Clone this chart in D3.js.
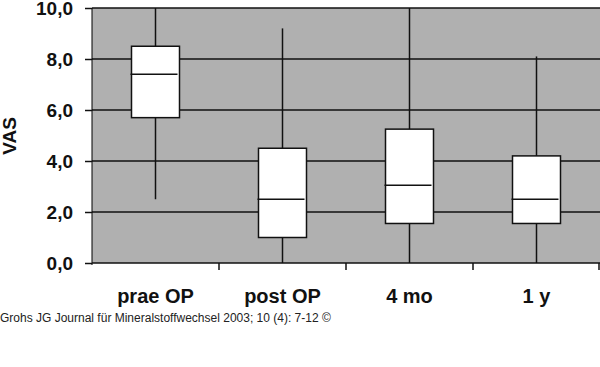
<!DOCTYPE html>
<html>
<head>
<meta charset="utf-8">
<script src="https://cdn.jsdelivr.net/npm/d3@7"></script>
<style>
  body { margin: 0; background: #fff; }
  text { font-family: Arial, "Liberation Sans", sans-serif; }
</style>
</head>
<body>
<div id="chart"></div>
<script>
// box plot data: VAS scores over time
var categories = ["prae OP", "post OP", "4 mo", "1 y"];
var whiskerMin = [2.5, 0.0, 0.0, 0.0];
var boxLow     = [5.7, 1.0, 1.55, 1.55];
var medians    = [7.4, 2.5, 3.05, 2.5];
var boxHigh    = [8.5, 4.5, 5.25, 4.2];
var whiskerMax = [10.0, 9.2, 10.0, 8.1];
var yTicks = [0, 2, 4, 6, 8, 10];

var boxes = categories.map(function(c, i) {
	return { name: c, min: whiskerMin[i], q1: boxLow[i], med: medians[i], q3: boxHigh[i], max: whiskerMax[i] };
});

var w = 600, h = 367;
// note: "top" is taken by window.top, so use plot* names
var plotLeft = 92, plotRight = 600, plotTop = 8, plotBottom = 263;

var svg = d3.select("#chart")
	.append("svg")
	.attr("width", w)
	.attr("height", h);

var x = d3.scaleBand().domain(categories).range([plotLeft, plotRight]);
var y = d3.scaleLinear().domain([0, 10]).range([plotBottom, plotTop]);

// gray plot area
svg.append("rect")
	.attr("x", plotLeft).attr("y", plotTop)
	.attr("width", plotRight - plotLeft).attr("height", plotBottom - plotTop)
	.style("fill", "#b0b0b0");

// gridlines
svg.selectAll("line.grid")
	.data(yTicks.filter(function(d) { return d > 0; }))
	.enter().append("line")
	.attr("x1", plotLeft).attr("x2", plotRight)
	.attr("y1", function(d) { return y(d); })
	.attr("y2", function(d) { return y(d); })
	.style("stroke", "#111").style("stroke-width", 1.5);

// whiskers
svg.selectAll("line.whisker")
	.data(boxes)
	.enter().append("line")
	.attr("x1", function(d) { return x(d.name) + x.bandwidth() / 2; })
	.attr("x2", function(d) { return x(d.name) + x.bandwidth() / 2; })
	.attr("y1", function(d) { return y(d.max); })
	.attr("y2", function(d) { return y(d.min); })
	.style("stroke", "#111").style("stroke-width", 1.5);

var boxW = 48;
svg.selectAll("rect.box")
	.data(boxes)
	.enter().append("rect")
	.attr("x", function(d) { return x(d.name) + x.bandwidth() / 2 - boxW / 2; })
	.attr("y", function(d) { return y(d.q3); })
	.attr("width", boxW)
	.attr("height", function(d) { return y(d.q1) - y(d.q3); })
	.style("fill", "#fff").style("stroke", "#111").style("stroke-width", 1.5);

svg.selectAll("line.median")
	.data(boxes)
	.enter().append("line")
	.attr("x1", function(d) { return x(d.name) + x.bandwidth() / 2 - boxW / 2 - 1; })
	.attr("x2", function(d) { return x(d.name) + x.bandwidth() / 2 + boxW / 2 - 2; })
	.attr("y1", function(d) { return y(d.med); })
	.attr("y2", function(d) { return y(d.med); })
	.style("stroke", "#111").style("stroke-width", 1.5);

// y axis
var yAxis = d3.axisLeft(y)
	.tickValues(yTicks)
	.tickSize(7)
	.tickPadding(12)
	.tickFormat(function(d) { return d3.format(".1f")(d).replace(".", ","); });
var gy = svg.append("g")
	.attr("transform", "translate(" + plotLeft + ",0)")
	.call(yAxis);
gy.select(".domain").attr("d", "M0," + plotTop + "V" + (plotBottom + 2));
gy.selectAll("line").style("stroke", "#111").style("stroke-width", 1.5);
gy.selectAll("text")
	.style("font-size", "19px").style("font-weight", "bold").style("fill", "#111")
	.attr("dy", "0.35em");

// x axis, ticks at category boundaries
var boundaries = categories.map(function(c) { return x(c) + x.bandwidth(); });
svg.append("line")
	.attr("x1", plotLeft).attr("x2", plotRight)
	.attr("y1", plotBottom).attr("y2", plotBottom)
	.style("stroke", "#111").style("stroke-width", 1.5);
svg.selectAll("line.xtick")
	.data(boundaries)
	.enter().append("line")
	.attr("x1", function(d) { return Math.min(d, plotRight - 1); })
	.attr("x2", function(d) { return Math.min(d, plotRight - 1); })
	.attr("y1", plotBottom).attr("y2", plotBottom + 7)
	.style("stroke", "#111").style("stroke-width", 1.5);

svg.selectAll("text.xlabel")
	.data(categories)
	.enter().append("text")
	.attr("x", function(d) { return x(d) + x.bandwidth() / 2; })
	.attr("y", 303)
	.attr("text-anchor", "middle")
	.style("font-size", "20px").style("font-weight", "bold").style("fill", "#111")
	.text(function(d) { return d; });

// axis title
svg.append("text")
	.attr("transform", "translate(16,136) rotate(-90)")
	.attr("text-anchor", "middle")
	.style("font-size", "19px").style("font-weight", "bold").style("fill", "#111")
	.text("VAS");

// source line
svg.append("text")
	.attr("x", 0).attr("y", 322)
	.style("font-size", "12px").style("fill", "#222")
	.text("Grohs JG Journal für Mineralstoffwechsel 2003; 10 (4): 7-12 ©");
</script>
</body>
</html>
